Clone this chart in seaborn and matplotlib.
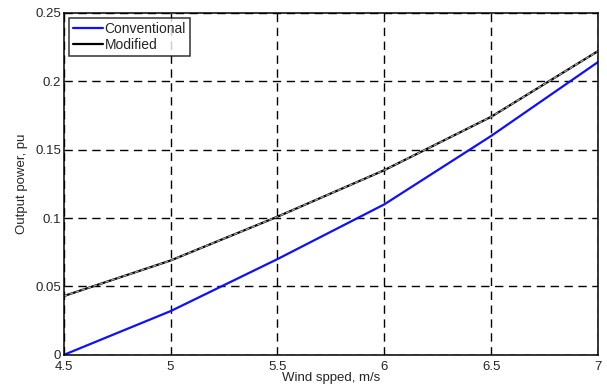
import pandas as pd
import seaborn as sns
import matplotlib.pyplot as plt

# wind speed (m/s) and output power (pu)
wind = [4.5, 5.0, 5.5, 6.0, 6.5, 7.0]
conventional = [0.0, 0.032, 0.070, 0.110, 0.160, 0.214]
modified = [0.043, 0.069, 0.101, 0.135, 0.174, 0.222]

data = pd.DataFrame({
    "wind": wind * 2,
    "power": conventional + modified,
    "type": ["Conventional"] * len(wind) + ["Modified"] * len(wind),
})

sns.set_style("white")
plt.rcParams['font.family'] = ['Liberation Sans', 'DejaVu Sans']

fig = plt.figure(figsize=(6.07, 3.90), dpi=100)
ax = fig.add_axes([0.105, 0.09, 0.88, 0.877])

sns.lineplot(data=data, x="wind", y="power", hue="type",
             palette={"Conventional": "#1010ff", "Modified": "black"},
             linewidth=1.6, ax=ax)
# grey dashes on top of the modified curve
mod = data[data["type"] == "Modified"]
ax.plot(mod["wind"], mod["power"], color="#a8a8a8", linewidth=0.9,
        linestyle=(0, (3, 2)))

ax.set_xlim(4.5, 7)
ax.set_ylim(0, 0.25)
ax.set_xticks([4.5, 5, 5.5, 6, 6.5, 7])
ax.set_xticklabels(["4.5", "5", "5.5", "6", "6.5", "7"])
ax.set_yticks([0, 0.05, 0.1, 0.15, 0.2, 0.25])
ax.set_yticklabels(["0", "0.05", "0.1", "0.15", "0.2", "0.25"])
ax.grid(True, color="black", linestyle=(0, (6, 4)), linewidth=1.0)
ax.tick_params(axis="y", direction="in", length=4, labelsize=9.5, pad=2)
ax.tick_params(axis="x", direction="in", length=4, labelsize=9.5, pad=4.5)
for s in ax.spines.values():
    s.set_color("black")
    s.set_linewidth(1.1)

ax.set_xlabel("Wind spped, m/s", fontsize=9.5, labelpad=-1)
ax.set_ylabel("Output power, pu", fontsize=9.5, labelpad=5)

leg = ax.legend(loc="upper left", fontsize=10, frameon=True, fancybox=False,
                handlelength=2.2, handletextpad=0.1, borderpad=0.3,
                labelspacing=0.15, borderaxespad=0.35)
leg.get_frame().set_edgecolor("black")
leg.get_frame().set_linewidth(1.1)

plt.savefig("out.png", dpi=100)
